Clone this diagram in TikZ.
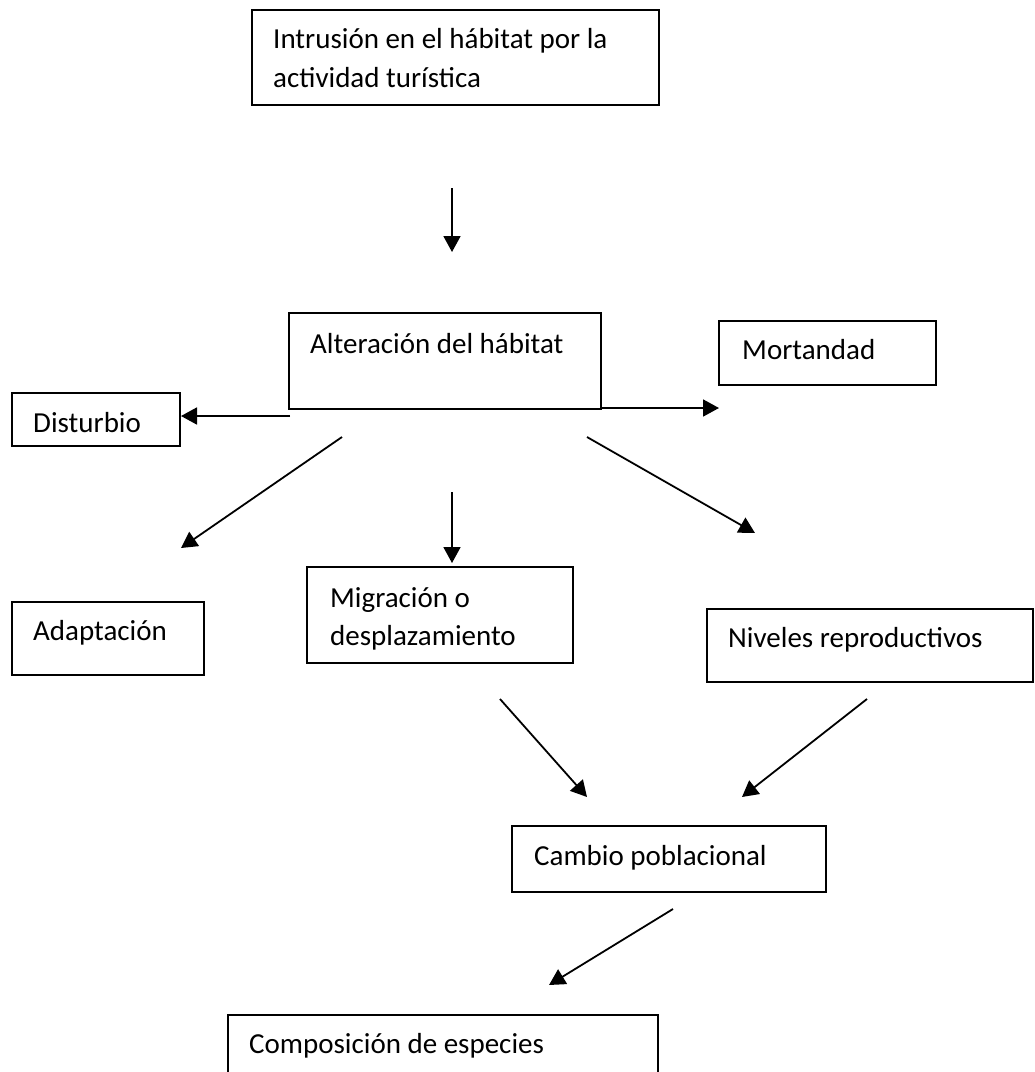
\documentclass[tikz,border=0pt]{standalone}
\usepackage{fontspec}
\setmainfont{Carlito}
\usetikzlibrary{arrows.meta,fit}
\tikzset{
  boxst/.style={draw=black, line width=1.8pt, inner sep=0pt, fill=none},
  txt/.style={inner sep=0pt, anchor=base west, font=\fontsize{29}{39}\selectfont},
  arr/.style={line width=1.8pt, -{Triangle[length=16pt,width=17pt]}}
}
\begin{document}
\begin{tikzpicture}[x=1pt,y=-1pt]
\useasboundingbox (0,0) rectangle (1035,1072);
\fill[white] (0,0) rectangle (1035,1072);
\clip (0,0) rectangle (1035,1072);
% boxes
\node[boxst, fit={(252,10) (659,105)}] (intr) {};
\node[boxst, fit={(289,313) (601,409)}] (alt) {};
\node[boxst, fit={(719,321) (936,385)}] (mort) {};
\node[boxst, fit={(12,393) (180,446)}] (dist) {};
\node[boxst, fit={(12,602) (204,675)}] (adap) {};
\node[boxst, fit={(307,567) (573,663)}] (migr) {};
\node[boxst, fit={(707,609) (1033,682)}] (nivel) {};
\node[boxst, fit={(512,826) (826,892)}] (camb) {};
\node[boxst, fit={(228,1015) (658,1100)}] (comp) {};
% texts
\node[txt] (t1a) at (273,48) {Intrusión en el hábitat por la};
\node[txt] (t1b) at (273,87) {actividad turística};
\node[txt] (t2) at (310,353) {Alteración del hábitat};
\node[txt] (t3) at (742,359) {Mortandad};
\node[txt] (t4) at (33,432) {Disturbio};
\node[txt] (t5) at (33,640) {Adaptación};
\node[txt] (t6a) at (330,607) {Migración o};
\node[txt] (t6b) at (330,645) {desplazamiento};
\node[txt] (t7) at (728,647) {Niveles reproductivos};
\node[txt] (t8) at (534,865) {Cambio poblacional};
\node[txt] (t9) at (249,1053) {Composición de especies};
% connector ends
\coordinate (a1s) at (452,188);  \coordinate (a1e) at (452,252);
\coordinate (a2s) at (290,416);  \coordinate (a2e) at (181,416);
\coordinate (a3s) at (601,408);  \coordinate (a3e) at (719,408);
\coordinate (a4s) at (342,437);  \coordinate (a4e) at (181,548);
\coordinate (a5s) at (452,492);  \coordinate (a5e) at (452,563);
\coordinate (a6s) at (587,437);  \coordinate (a6e) at (755,533);
\coordinate (a7s) at (500,699);  \coordinate (a7e) at (587,797);
\coordinate (a8s) at (867,699);  \coordinate (a8e) at (742,797);
\coordinate (a9s) at (673,909);  \coordinate (a9e) at (549,985);
% connectors
\draw[arr] (a1s) -- (a1e);
\draw[arr] (a2s) -- (a2e);
\draw[arr] (a3s) -- (a3e);
\draw[arr] (a4s) -- (a4e);
\draw[arr] (a5s) -- (a5e);
\draw[arr] (a6s) -- (a6e);
\draw[arr] (a7s) -- (a7e);
\draw[arr] (a8s) -- (a8e);
\draw[arr] (a9s) -- (a9e);
\end{tikzpicture}
\end{document}
